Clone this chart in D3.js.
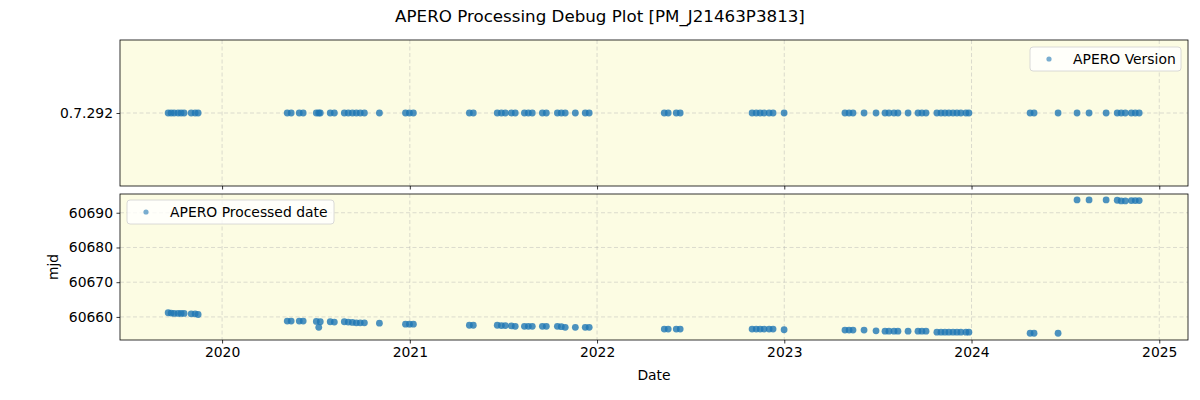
<!DOCTYPE html>
<html>
<head>
<meta charset="utf-8">
<script src="https://cdn.jsdelivr.net/npm/d3@7"></script>
<style>
  body { margin: 0; background: #fff; }
  svg { display: block; font-family: "DejaVu Sans", sans-serif; }
</style>
</head>
<body>
<svg id="chart" width="1200" height="400"></svg>
<script>
// ---------- data (dates as decimal years) ----------
const obsYears = [
  2019.712, 2019.728, 2019.744, 2019.765, 2019.781, 2019.797, 2019.835, 2019.856, 2019.872,
  2020.347, 2020.368, 2020.411, 2020.432, 2020.502, 2020.515, 2020.523, 2020.576, 2020.598,
  2020.651, 2020.672, 2020.694, 2020.715, 2020.736, 2020.758, 2020.838,
  2020.977, 2020.998, 2021.019,
  2021.318, 2021.339, 2021.467, 2021.489, 2021.510, 2021.542, 2021.563,
  2021.612, 2021.633, 2021.654, 2021.708, 2021.729, 2021.788, 2021.809, 2021.830,
  2021.884, 2021.937, 2021.958,
  2022.359, 2022.380, 2022.423, 2022.444,
  2022.828, 2022.850, 2022.871, 2022.892, 2022.919, 2022.940, 2022.999,
  2023.324, 2023.346, 2023.367, 2023.426, 2023.490, 2023.538, 2023.559, 2023.586, 2023.607,
  2023.661, 2023.714, 2023.735, 2023.757,
  2023.815, 2023.837, 2023.858, 2023.879, 2023.901, 2023.922, 2023.943, 2023.970, 2023.986,
  2024.312, 2024.333, 2024.461,
  2024.562, 2024.626, 2024.717, 2024.776, 2024.797, 2024.819, 2024.851, 2024.872, 2024.893
];
const processedMjd = [
  60661.2, 60661.1, 60661.0, 60661.0, 60661.0, 60661.0, 60660.9, 60660.9, 60660.7,
  60658.8, 60658.8, 60658.8, 60658.8, 60658.7, 60657.0, 60658.6, 60658.6, 60658.5,
  60658.6, 60658.5, 60658.4, 60658.3, 60658.3, 60658.3, 60658.2,
  60657.9, 60657.9, 60657.9,
  60657.6, 60657.6, 60657.6, 60657.5, 60657.5, 60657.4, 60657.3,
  60657.3, 60657.3, 60657.3, 60657.3, 60657.3, 60657.3, 60657.2, 60657.0,
  60657.0, 60657.0, 60657.0,
  60656.5, 60656.5, 60656.5, 60656.5,
  60656.5, 60656.5, 60656.5, 60656.5, 60656.5, 60656.5, 60656.3,
  60656.2, 60656.2, 60656.2, 60656.2, 60656.0, 60655.9, 60655.9, 60655.9, 60655.9,
  60655.9, 60655.9, 60655.9, 60655.9,
  60655.6, 60655.6, 60655.6, 60655.6, 60655.6, 60655.6, 60655.6, 60655.6, 60655.6,
  60655.3, 60655.3, 60655.3,
  60693.7, 60693.7, 60693.7, 60693.6, 60693.4, 60693.4, 60693.5, 60693.5, 60693.5
];
const versionCategories = ["0.7.292"];
const versionValues = obsYears.map(() => "0.7.292");
const mjdTicks = [60660, 60670, 60680, 60690];
const yearTicks = [2020, 2021, 2022, 2023, 2024, 2025];
const titleText = "APERO Processing Debug Plot [PM_J21463P3813]";

// ---------- helpers ----------
function decYearToDate(y) {
  const yr = Math.floor(y);
  const a = Date.UTC(yr, 0, 1), b = Date.UTC(yr + 1, 0, 1);
  return new Date(a + (y - yr) * (b - a));
}
const obsDates = obsYears.map(decYearToDate);

const svg = d3.select("#chart");
const L = 120, R = 1188;
const top1 = 40, bot1 = 186, top2 = 194, bot2 = 340;
const bg = "#fcfce3";
const dotColor = "#1f77b4";
const fs = "13.9px";

const x = d3.scaleUtc()
  .domain([new Date(Date.UTC(2019, 5, 16)), new Date(Date.UTC(2025, 1, 26))])
  .range([L, R]);
const y1 = d3.scalePoint().domain(versionCategories).range([bot1, top1]).padding(0.5);
const y2 = d3.scaleLinear().domain([60653.35, 60695.4]).range([bot2, top2]);

const yearDates = yearTicks.map(y => new Date(Date.UTC(y, 0, 1)));

function panel(t, b, yScale, yTickVals) {
  const g = svg.append("g");
  g.append("rect").attr("x", L).attr("y", t).attr("width", R - L).attr("height", b - t).attr("fill", bg);
  g.append("g").selectAll("line").data(yearDates).join("line")
    .attr("x1", d => x(d)).attr("x2", d => x(d)).attr("y1", t).attr("y2", b)
    .attr("stroke", "#b0b0b0").attr("stroke-opacity", 0.55).attr("stroke-width", 0.8)
    .attr("stroke-dasharray", "4,2.5");
  g.append("g").selectAll("line").data(yTickVals).join("line")
    .attr("x1", L).attr("x2", R).attr("y1", d => yScale(d)).attr("y2", d => yScale(d))
    .attr("stroke", "#b0b0b0").attr("stroke-opacity", 0.55).attr("stroke-width", 0.8)
    .attr("stroke-dasharray", "4,2.5");
  return g;
}

function frameAndAxes(g, t, b, yScale, yTickVals, yFmt, showXLabels) {
  const xa = d3.axisBottom(x).tickValues(yearDates).tickSize(3.5).tickPadding(3.5)
    .tickFormat(showXLabels ? d3.utcFormat("%Y") : () => "");
  const gx = g.append("g").attr("transform", `translate(0,${b})`).call(xa);
  const ya = d3.axisLeft(yScale).tickValues(yTickVals).tickSize(3.5).tickPadding(3.5).tickFormat(yFmt);
  const gy = g.append("g").attr("transform", `translate(${L},0)`).call(ya);
  [gx, gy].forEach(a => {
    a.select(".domain").remove();
    a.selectAll(".tick line").attr("stroke", "#000").attr("stroke-width", 0.8);
    a.selectAll(".tick text").attr("fill", "#000").style("font-size", fs)
      .style("font-family", "'DejaVu Sans', sans-serif");
  });
  g.append("rect").attr("x", L).attr("y", t).attr("width", R - L).attr("height", b - t)
    .attr("fill", "none").attr("stroke", "#000").attr("stroke-width", 0.8);
}

function dots(g, yAcc) {
  g.append("g").selectAll("circle").data(obsDates).join("circle")
    .attr("cx", d => x(d)).attr("cy", yAcc).attr("rx", 3.6)
    .attr("r", 3.4)
    .attr("fill", dotColor).attr("fill-opacity", 0.8);
}

// top panel
const g1 = panel(top1, bot1, y1, versionCategories);
dots(g1, (d, i) => y1(versionValues[i]));
frameAndAxes(g1, top1, bot1, y1, versionCategories, d => d, false);

// bottom panel
const g2 = panel(top2, bot2, y2, mjdTicks);
dots(g2, (d, i) => y2(processedMjd[i]));
frameAndAxes(g2, top2, bot2, y2, mjdTicks, d3.format("d"), true);

// legends
function legend(x0, y0, w, label) {
  const g = svg.append("g");
  g.append("rect").attr("x", x0).attr("y", y0).attr("width", w).attr("height", 24)
    .attr("rx", 3).attr("fill", "#fff").attr("fill-opacity", 0.8)
    .attr("stroke", "#d0d0d0").attr("stroke-width", 0.8);
  g.append("circle").attr("cx", x0 + 19).attr("cy", y0 + 12).attr("r", 2.6)
    .attr("fill", dotColor).attr("fill-opacity", 0.6);
  g.append("text").attr("x", x0 + 43).attr("y", y0 + 17).text(label)
    .style("font-size", fs).attr("fill", "#000");
}
legend(1030, 47, 151, "APERO Version");
legend(127, 200, 207, "APERO Processed date");

// title & labels
svg.append("text").attr("x", 600).attr("y", 22).attr("text-anchor", "middle")
  .style("font-size", "16.7px").attr("fill", "#000").text(titleText);
svg.append("text").attr("x", (L + R) / 2).attr("y", 380).attr("text-anchor", "middle")
  .style("font-size", fs).attr("fill", "#000").text("Date");
svg.append("text").attr("transform", `translate(58,${(top2 + bot2) / 2}) rotate(-90)`)
  .attr("text-anchor", "middle").style("font-size", fs).attr("fill", "#000").text("mjd");
</script>
</body>
</html>
